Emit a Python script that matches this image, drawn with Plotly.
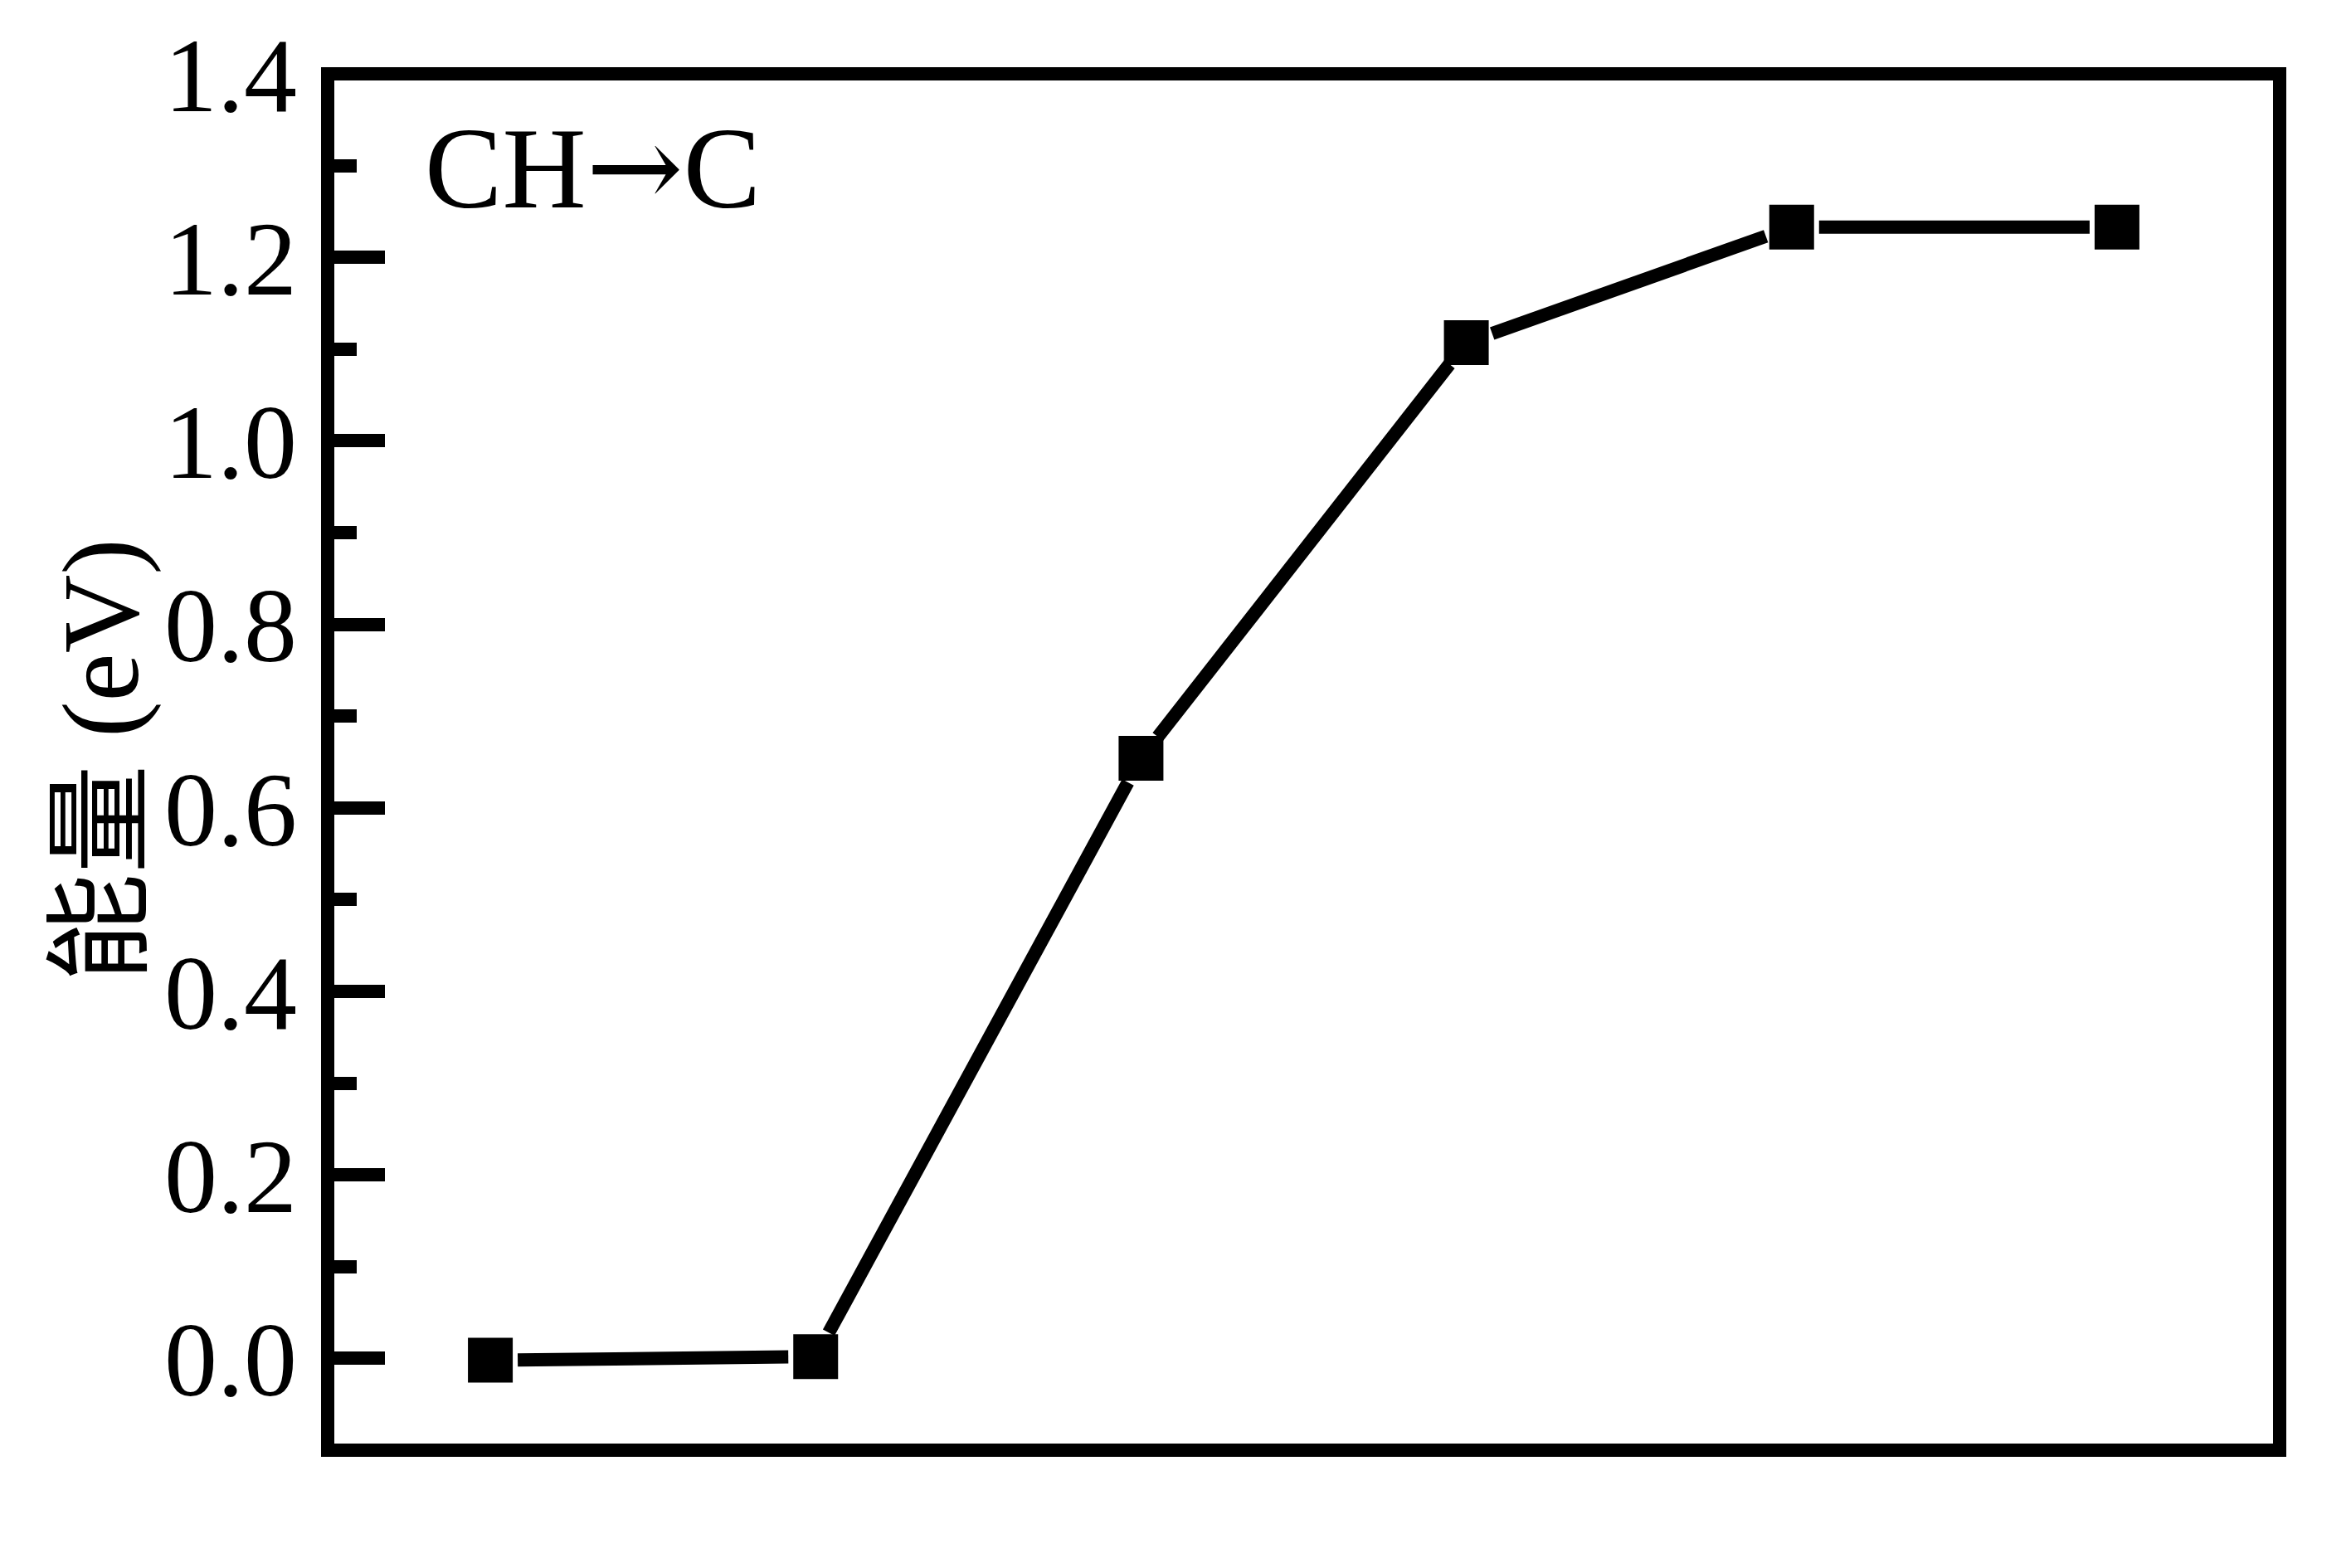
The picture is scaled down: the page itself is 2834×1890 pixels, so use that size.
import plotly.graph_objects as go

# ---- data ----
steps = [0, 1, 2, 3, 4, 5]
energy = [-0.002, 0.002, 0.654, 1.107, 1.233, 1.233]
y_ticks = [0.0, 0.2, 0.4, 0.6, 0.8, 1.0, 1.2, 1.4]
y_ticktext = ["0.0", "0.2", "0.4", "0.6", "0.8", "1.0", "1.2", "1.4"]
y_minor = [0.1, 0.3, 0.5, 0.7, 0.9, 1.1, 1.3]
y_title = "能量 (eV)"
label_text = 'CH<span style="font-family:DejaVu Serif">→</span>C'

# ---- layout constants (page body adds an 8 px offset) ----
W, H = 2826, 1882
ML, MR, MT, MB = 387, 86, 76, 142
PW, PH = W - ML - MR, H - MT - MB
XR = [-0.5, 5.5]
YR = [-0.1, 1.4]
GAP = 33  # px gap between line ends and marker centres

def to_px(x, y):
    px = (x - XR[0]) / (XR[1] - XR[0]) * PW
    py = (y - YR[0]) / (YR[1] - YR[0]) * PH
    return px, py

def to_data(px, py):
    return (XR[0] + px / PW * (XR[1] - XR[0]),
            YR[0] + py / PH * (YR[1] - YR[0]))

# build shortened segments (gaps around symbols)
seg_x, seg_y = [], []
for i in range(len(steps) - 1):
    x0, y0 = to_px(steps[i], energy[i])
    x1, y1 = to_px(steps[i + 1], energy[i + 1])
    dx, dy = x1 - x0, y1 - y0
    L = (dx * dx + dy * dy) ** 0.5
    ux, uy = dx / L, dy / L
    a = to_data(x0 + ux * GAP, y0 + uy * GAP)
    b = to_data(x1 - ux * GAP, y1 - uy * GAP)
    seg_x += [a[0], b[0], None]
    seg_y += [a[1], b[1], None]

fig = go.Figure()
fig.add_trace(go.Scatter(x=seg_x, y=seg_y, mode="lines",
                         line=dict(color="black", width=16),
                         hoverinfo="skip", showlegend=False))
fig.add_trace(go.Scatter(x=steps, y=energy, mode="markers",
                         marker=dict(symbol="square", size=54, color="black",
                                     line=dict(width=0)),
                         showlegend=False))

serif = "Liberation Serif, Times New Roman, Noto Sans CJK SC, serif"

fig.update_layout(
    width=W, height=H,
    margin=dict(l=ML, r=MR, t=MT, b=MB, pad=0),
    paper_bgcolor="white", plot_bgcolor="white",
    font=dict(family=serif, color="black", size=128),
    xaxis=dict(range=XR, showline=False, ticks="", showticklabels=False,
               showgrid=False, zeroline=False),
    yaxis=dict(range=YR, showline=False, ticks="inside", ticklen=69,
               tickwidth=16, tickcolor="black", tickvals=y_ticks,
               ticktext=y_ticktext, ticklabelstandoff=36,
               tickfont=dict(family=serif, size=128, color="black"),
               minor=dict(tickvals=y_minor, ticks="inside", ticklen=35,
                          tickwidth=16, tickcolor="black", showgrid=False),
               showgrid=False, zeroline=False),
    shapes=[dict(type="rect", xref="paper", yref="paper", x0=0, x1=1, y0=0, y1=1,
                 line=dict(color="black", width=16), fillcolor="rgba(0,0,0,0)",
                 layer="above")],
    annotations=[
        dict(text=label_text, xref="paper", yref="paper",
             x=(502 - ML) / PW, y=0.932, xanchor="left", yanchor="middle",
             showarrow=False, font=dict(family=serif, size=140, color="black")),
        dict(text=y_title, xref="paper", yref="paper",
             x=(114 - ML) / PW, y=0.501, xanchor="center", yanchor="middle",
             textangle=-90, showarrow=False,
             font=dict(family=serif, size=131, color="black")),
    ],
)

fig.write_html("out.html")
